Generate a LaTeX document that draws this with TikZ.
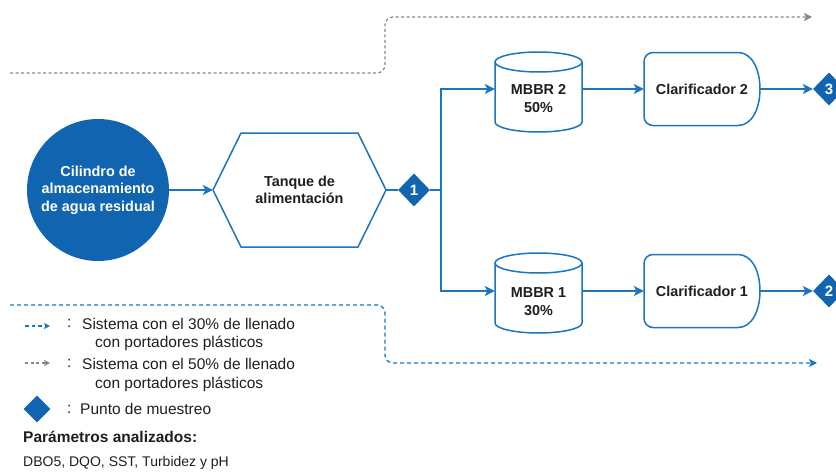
\documentclass[tikz,border=0pt]{standalone}
\usepackage{fontspec}
\setmainfont{Liberation Sans}
\usetikzlibrary{arrows.meta,shapes.geometric}
\definecolor{lb}{RGB}{28,117,190}
\definecolor{db}{RGB}{17,101,176}
\definecolor{gr}{RGB}{135,135,135}
\definecolor{tx}{RGB}{30,30,30}
\newcommand\mycyl[2]{%
  \draw[flow, fill=white] ({#1},{#2+10}) -- ({#1},{#2+70}) .. controls ({#1},{#2+75.52}) and ({#1+19.5},{#2+80}) .. ({#1+43.5},{#2+80}) .. controls ({#1+67.5},{#2+80}) and ({#1+87},{#2+75.52}) .. ({#1+87},{#2+70}) -- ({#1+87},{#2+10});
  \draw[flow] ({#1+43.5},{#2+10}) ellipse [x radius=43.5pt, y radius=10pt];
}
\newcommand\myclar[2]{%
  \draw[flow] ({#1+94},{#2+73}) .. controls ({#1+108},{#2+73}) and ({#1+116},{#2+56}) .. ({#1+116},{#2+36.5}) .. controls ({#1+116},{#2+17}) and ({#1+108},{#2}) .. ({#1+94},{#2}) -- ({#1+9},{#2}) .. controls ({#1+4},{#2}) and ({#1},{#2+4}) .. ({#1},{#2+9}) -- ({#1},{#2+64}) .. controls ({#1},{#2+69}) and ({#1+4},{#2+73}) .. ({#1+9},{#2+73}) -- cycle;
}
\begin{document}
\begin{tikzpicture}[x=1pt,y=-1pt,
  flow/.style={draw=lb, line width=1.5pt},
  arr/.style={flow, -{Stealth[length=10pt,width=10pt,inset=2.5pt]}},
  ntext/.style={font=\fontsize{14.4}{17.5}\selectfont\bfseries, align=center, text=tx, inner sep=0pt},
  legtext/.style={font=\fontsize{15.5}{19}\selectfont, anchor=west, text=tx, inner sep=0pt},
  samp/.style={diamond, fill=db, inner sep=0pt, minimum width=32pt, minimum height=33pt, text=white, font=\fontsize{15}{15}\selectfont\bfseries},
  box/.style={draw=none, inner sep=0pt},
  bluedash/.style={draw=lb, line width=1.3pt, dash pattern=on 4pt off 3pt, -{Stealth[length=8pt,width=8pt,inset=2pt]}},
  graydash/.style={draw=gr, line width=1.2pt, dash pattern=on 3pt off 2.5pt, -{Stealth[length=8pt,width=8pt,inset=2pt]}}
]
\useasboundingbox (0,0) rectangle (836,474);

% main nodes
\node[circle, fill=db, minimum size=142pt, ntext, text=white] (c) at (98,190) {Cilindro de\\almacenamiento\\de agua residual};
\draw[flow] (213,190) -- (241,133) -- (358,133) -- (386,190) -- (358,247) -- (241,247) -- cycle;
\node[ntext, minimum width=173pt, minimum height=114pt] (t) at (299.5,190) {Tanque de\\alimentación};
\node[samp] (d1) at (414,190) {1};

\mycyl{495}{52}
\node[box, minimum width=87pt, minimum height=80pt] (m2) at (538.5,89) {};
\node[ntext] (m2t) at (538.5,98.5) {MBBR 2\\50\%};
\mycyl{495}{253}
\node[box, minimum width=87pt, minimum height=80pt] (m1) at (538.5,291) {};
\node[ntext] (m1t) at (538.5,301.5) {MBBR 1\\30\%};

\myclar{644}{52.5}
\node[box, ntext, minimum width=116pt, minimum height=73pt] (c2) at (702,89) {Clarificador 2};
\myclar{644}{254.5}
\node[box, ntext, minimum width=116pt, minimum height=73pt] (c1) at (702,291) {Clarificador 1};

\node[samp] (d3) at (829,89) {3};
\node[samp] (d2) at (829,291) {2};

% connectors
\draw[arr] (c.east) -- (t.west);
\draw[flow] (t.east) -- (d1.west);
\coordinate (j) at (441,190);
\draw[flow] (d1.east) -- (j);
\draw[arr] (j) |- (m2.west);
\draw[arr] (j) |- (m1.west);
\draw[arr] (m2.east) -- (c2.west);
\draw[arr] (m1.east) -- (c1.west);
\draw[arr] (c2.east) -- (d3.west);
\draw[arr] (c1.east) -- (d2.west);

% dashed system lines
\coordinate (g0) at (10,73);
\coordinate (g1) at (385,73);
\coordinate (g2) at (385,17);
\coordinate (g3) at (812,17);
\draw[graydash, rounded corners=8pt] (g0) -- (g1) -- (g2) -- (g3);
\coordinate (b0) at (10,305);
\coordinate (b1) at (385,305);
\coordinate (b2) at (385,363);
\coordinate (b3) at (817,363);
\draw[bluedash, rounded corners=8pt] (b0) -- (b1) -- (b2) -- (b3);

% legend
\coordinate (l1a) at (25,326);
\coordinate (l1b) at (50,326);
\draw[bluedash, dash pattern=on 3.5pt off 3pt, -{Stealth[length=6pt,width=6pt,inset=1.5pt]}] (l1a) -- (l1b);
\node[legtext] (k1) at (67,323.5) {:};
\node[legtext] (s1) at (82,323.5) {Sistema con el 30\% de llenado};
\node[legtext] (s1b) at (95,343.5) {con portadores plásticos};
\coordinate (l2a) at (25,363);
\coordinate (l2b) at (50,363);
\draw[graydash, -{Stealth[length=6pt,width=6pt,inset=1.5pt]}] (l2a) -- (l2b);
\node[legtext] (k2) at (67,363.5) {:};
\node[legtext] (s2) at (82,363.5) {Sistema con el 50\% de llenado};
\node[legtext] (s2b) at (95,384) {con portadores plásticos};
\node[diamond, fill=db, minimum size=27pt, inner sep=0pt] (ld) at (37,409) {};
\node[legtext] (k3) at (67,409) {:};
\node[legtext] (s3) at (80,409) {Punto de muestreo};
\node[legtext, font=\fontsize{15.5}{19}\selectfont\bfseries] (p1) at (23,437) {Parámetros analizados:};
\node[legtext, font=\fontsize{14}{17}\selectfont] (p2) at (23,463) {DBO5, DQO, SST, Turbidez y pH};
\end{tikzpicture}
\end{document}
